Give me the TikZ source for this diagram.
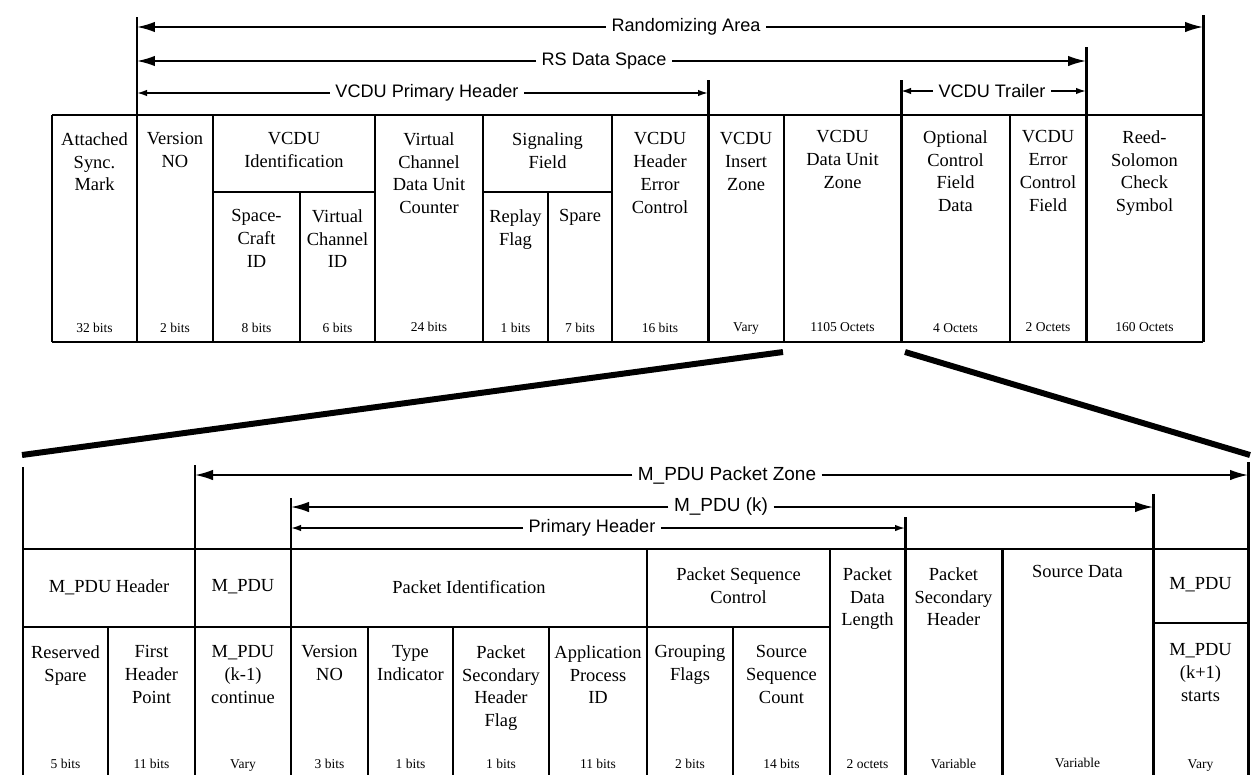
\documentclass[tikz,border=0pt]{standalone}
\usepackage{fontspec}
\setmainfont{Liberation Serif}
\newfontfamily\arialf{Liberation Sans}
\usetikzlibrary{arrows.meta}
\begin{document}
\begin{tikzpicture}[x=0.02cm,y=-0.02cm,
  thinl/.style={line width=0.8pt},
  thickl/.style={line width=1.7pt},
  slant/.style={line width=3.4pt},
  cell/.style={anchor=north,inner sep=0pt,align=center,font=\fontsize{10.5}{13}\selectfont},
  mid/.style={inner sep=0pt,align=center,font=\fontsize{10.5}{13}\selectfont},
  bits/.style={anchor=base,inner sep=0pt,font=\fontsize{7.7}{9}\selectfont},
  lbl/.style={inner sep=3pt,font=\arialf\fontsize{10.3}{12}\selectfont},
  lblb/.style={inner sep=3pt,font=\arialf\fontsize{10.8}{12}\selectfont},
  bigar/.style={line width=1pt,-{Latex[length=3.6mm,width=2.1mm]}},
  smallar/.style={line width=0.9pt,-{Latex[length=2mm,width=1.3mm]}},
]
\useasboundingbox (0,0) rectangle (1253,775);

% ---------------- top table lines ----------------
\draw[thinl] (52,115) -- (1203,115);
\draw[thinl] (52,342) -- (1203,342);
\draw[thinl] (52,115) -- (52,342);
\foreach \x in {213,375,483,612,784,1010} \draw[thinl] (\x,115) -- (\x,342);
\foreach \x in {300,548} \draw[thinl] (\x,192) -- (\x,342);
\draw[thinl] (213,192) -- (375,192);
\draw[thinl] (483,192) -- (612,192);
% bars
\coordinate (tL) at (137,17);
\coordinate (tR) at (1203,15);
\coordinate (tRS) at (1086,47);
\coordinate (tPH) at (708,80);
\coordinate (tTR) at (901,80);
\draw[thickl] (tL) -- (137,342);
\draw[thickl] (tR) -- (1203,342);
\draw[thickl] (tRS) -- (1086,342);
\draw[thickl] (tPH) -- (708,342);
\draw[thickl] (tTR) -- (901,342);

% ---------------- top arrows ----------------
\coordinate (raL) at (137,27); \coordinate (raR) at (1203,27);
\node[lbl] (ra) at (686,27) {Randomizing Area};
\draw[bigar] (ra.west) -- (raL);
\draw[bigar] (ra.east) -- (raR);

\coordinate (rsL) at (137,61); \coordinate (rsR) at (1086,61);
\node[lbl] (rs) at (604,61) {RS Data Space};
\draw[bigar] (rs.west) -- (rsL);
\draw[bigar] (rs.east) -- (rsR);

\coordinate (phL) at (137,93); \coordinate (phR) at (708,93);
\node[lbl] (ph) at (427,93) {VCDU Primary Header};
\draw[smallar] (ph.west) -- (phL);
\draw[smallar] (ph.east) -- (phR);

\coordinate (trL) at (901,91); \coordinate (trR) at (1086,91);
\node[lbl] (tr) at (992,91) {VCDU Trailer};
\draw[smallar] (tr.west) -- (trL);
\draw[smallar] (tr.east) -- (trR);

% ---------------- top table texts ----------------
\node[cell] (a1) at (94.5,132) {Attached\\Sync.\\Mark};
\node[cell] (a2) at (175,132) {Version\\NO};
\node[cell] (a3) at (294,132) {VCDU\\Identification};
\node[cell] (a3a) at (256.5,209) {Space-\\Craft\\ID};
\node[cell] (a3b) at (337.5,209) {Virtual\\Channel\\ID};
\node[cell] (a4) at (429,132) {Virtual\\Channel\\Data Unit\\Counter};
\node[cell] (a5) at (547.5,132) {Signaling\\Field};
\node[cell] (a5a) at (515.5,209) {Replay\\Flag};
\node[cell] (a5b) at (580,209) {Spare};
\node[cell] (a6) at (660,132) {VCDU\\Header\\Error\\Control};
\node[cell] (a7) at (746,132) {VCDU\\Insert\\Zone};
\node[cell] (a8) at (842.5,130) {VCDU\\Data Unit\\Zone};
\node[cell] (a9) at (955.5,130) {Optional\\Control\\Field\\Data};
\node[cell] (a10) at (1048,130) {VCDU\\Error\\Control\\Field};
\node[cell] (a11) at (1144.5,130) {Reed-\\Solomon\\Check\\Symbol};

\node[bits] (b1) at (94.5,332) {32 bits};
\node[bits] (b2) at (175,332) {2 bits};
\node[bits] (b3) at (256.5,332) {8 bits};
\node[bits] (b4) at (337.5,332) {6 bits};
\node[bits] (b5) at (429,331) {24 bits};
\node[bits] (b6) at (515.5,332) {1 bits};
\node[bits] (b7) at (580,332) {7 bits};
\node[bits] (b8) at (660,332) {16 bits};
\node[bits] (b9) at (746,331) {Vary};
\node[bits] (b10) at (842.5,331) {1105 Octets};
\node[bits] (b11) at (955.5,332) {4 Octets};
\node[bits] (b12) at (1048,331) {2 Octets};
\node[bits] (b13) at (1144.5,331) {160 Octets};

% ---------------- zoom lines ----------------
\coordinate (zL1) at (783,352); \coordinate (zL2) at (22,455);
\coordinate (zR1) at (905,352); \coordinate (zR2) at (1250,455);
\draw[slant] (zL1) -- (zL2);
\draw[slant] (zR1) -- (zR2);

% ---------------- bottom table lines ----------------
\draw[thinl] (23,549) -- (1248,549);
\draw[thinl] (23,627) -- (830,627);
\draw[thinl] (1153,623) -- (1248,623);
\foreach \x in {108,368,453,549,733} \draw[thinl] (\x,627) -- (\x,775);
\foreach \x in {647,830} \draw[thinl] (\x,549) -- (\x,775);
\coordinate (bL) at (23,467);
\coordinate (bZ) at (195,465);
\coordinate (bK) at (291,498);
\coordinate (bP) at (905,517);
\coordinate (bS) at (1002,549);
\coordinate (bKe) at (1153,494);
\coordinate (bR) at (1248,462);
\foreach \c in {bL,bZ,bK,bP,bS,bKe,bR} \draw[thickl] (\c) -- (\c |- 0,775);

% ---------------- bottom arrows ----------------
\coordinate (pzL) at (195,475); \coordinate (pzR) at (1248,475);
\node[lblb] (pz) at (727,475) {M\_PDU Packet Zone};
\draw[bigar] (pz.west) -- (pzL);
\draw[bigar] (pz.east) -- (pzR);

\coordinate (mkL) at (291,507); \coordinate (mkR) at (1153,507);
\node[lblb] (mk) at (721,507) {M\_PDU (k)};
\draw[bigar] (mk.west) -- (mkL);
\draw[bigar] (mk.east) -- (mkR);

\coordinate (p2L) at (291,528); \coordinate (p2R) at (905,528);
\node[lbl] (p2) at (592,528) {Primary Header};
\draw[smallar] (p2.west) -- (p2L);
\draw[smallar] (p2.east) -- (p2R);

% ---------------- bottom table texts ----------------
\node[mid] (c1) at (109,587) {M\_PDU Header};
\node[mid] (c2) at (243,587) {M\_PDU};
\node[mid] (c3) at (469,587) {Packet Identification};
\node[cell] (c4) at (738.5,567) {Packet Sequence\\Control};
\node[cell] (c5) at (867.5,567) {Packet\\Data\\Length};
\node[cell] (c6) at (953.5,567) {Packet\\Secondary\\Header};
\node[cell] (c7) at (1077.5,565) {Source Data};
\node[mid] (c8) at (1200.5,585) {M\_PDU};

\node[cell] (d1) at (65.5,645) {Reserved\\Spare};
\node[cell] (d2) at (151.5,645) {First\\Header\\Point};
\node[cell] (d3) at (243,645) {M\_PDU\\(k-1)\\continue};
\node[cell] (d4) at (329.5,645) {Version\\NO};
\node[cell] (d5) at (410.5,645) {Type\\Indicator};
\node[cell] (d6) at (501,645) {Packet\\Secondary\\Header\\Flag};
\node[cell] (d7) at (598,645) {Application\\Process\\ID};
\node[cell] (d8) at (690,645) {Grouping\\Flags};
\node[cell] (d9) at (781.5,645) {Source\\Sequence\\Count};
\node[cell] (d10) at (1200.5,643) {M\_PDU\\(k+1)\\starts};

\node[bits] (e1) at (65.5,768) {5 bits};
\node[bits] (e2) at (151.5,768) {11 bits};
\node[bits] (e3) at (243,768) {Vary};
\node[bits] (e4) at (329.5,768) {3 bits};
\node[bits] (e5) at (410.5,768) {1 bits};
\node[bits] (e6) at (501,768) {1 bits};
\node[bits] (e7) at (598,768) {11 bits};
\node[bits] (e8) at (690,768) {2 bits};
\node[bits] (e9) at (781.5,768) {14 bits};
\node[bits] (e10) at (867.5,768) {2 octets};
\node[bits] (e11) at (953.5,768) {Variable};
\node[bits] (e12) at (1077.5,767) {Variable};
\node[bits] (e13) at (1200.5,768) {Vary};
\end{tikzpicture}
\end{document}
